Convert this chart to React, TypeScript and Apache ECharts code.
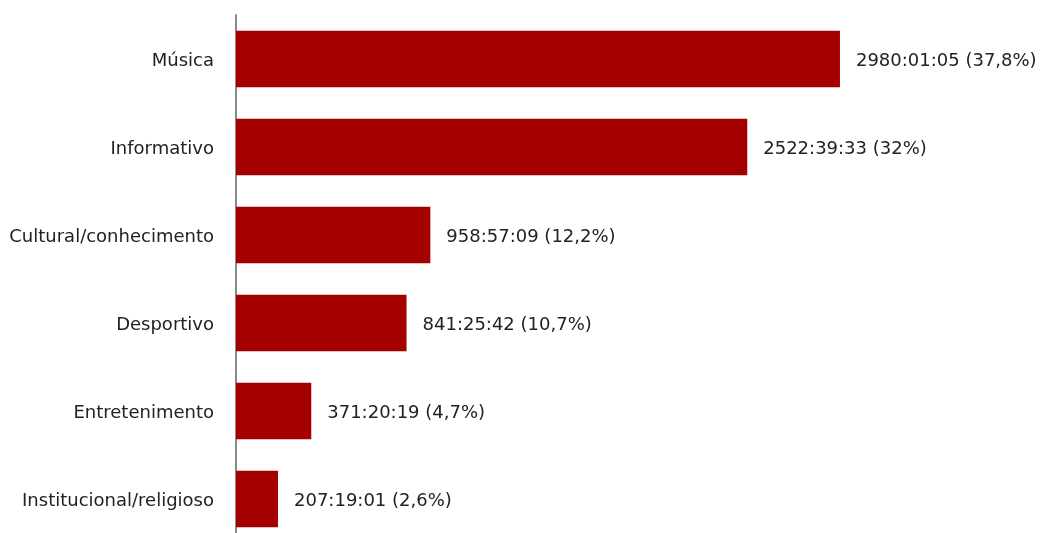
import React, { useEffect, useRef } from "react";
import * as echarts from "echarts";

const categories = [
  "Música",
  "Informativo",
  "Cultural/conhecimento",
  "Desportivo",
  "Entretenimento",
  "Institucional/religioso",
];
// duration in hours (from hh:mm:ss)
const hours = [2980.018, 2522.659, 958.953, 841.428, 371.339, 207.317];
const durationLabels = [
  "2980:01:05",
  "2522:39:33",
  "958:57:09",
  "841:25:42",
  "371:20:19",
  "207:19:01",
];
const percentLabels = ["37,8%", "32%", "12,2%", "10,7%", "4,7%", "2,6%"];

export default function App() {
  const ref = useRef<HTMLDivElement>(null);
  useEffect(() => {
    if (!ref.current) return;
    const chart = echarts.init(ref.current, undefined, { renderer: "svg" });
    const font = "'DejaVu Sans', sans-serif";
    chart.setOption({
      animation: false,
      grid: {
        left: 236,
        top: 15,
        width: 760,
        height: 528,
        containLabel: false,
        outerBoundsMode: "none",
      },
      xAxis: {
        type: "value",
        min: 0,
        max: 3750,
        show: false,
      },
      yAxis: {
        type: "category",
        data: categories,
        inverse: true,
        axisLine: { show: true, lineStyle: { color: "#8a8a8a", width: 2 } },
        axisTick: { show: false },
        axisLabel: {
          margin: 22,
          color: "#222222",
          fontSize: 18,
          fontFamily: font,
        },
      },
      series: [
        {
          type: "bar",
          data: hours,
          barCategoryGap: "36%",
          itemStyle: { color: "#a50000" },
          label: {
            show: true,
            position: "right",
            distance: 16,
            color: "#222222",
            fontSize: 18,
            fontFamily: font,
            formatter: (p: any) =>
              `${durationLabels[p.dataIndex]} (${percentLabels[p.dataIndex]})`,
          },
        },
      ],
    });
    return () => chart.dispose();
  }, []);
  return (
    <div
      ref={ref}
      style={{ position: "fixed", left: 0, top: 0, width: 1042, height: 533 }}
    />
  );
}
